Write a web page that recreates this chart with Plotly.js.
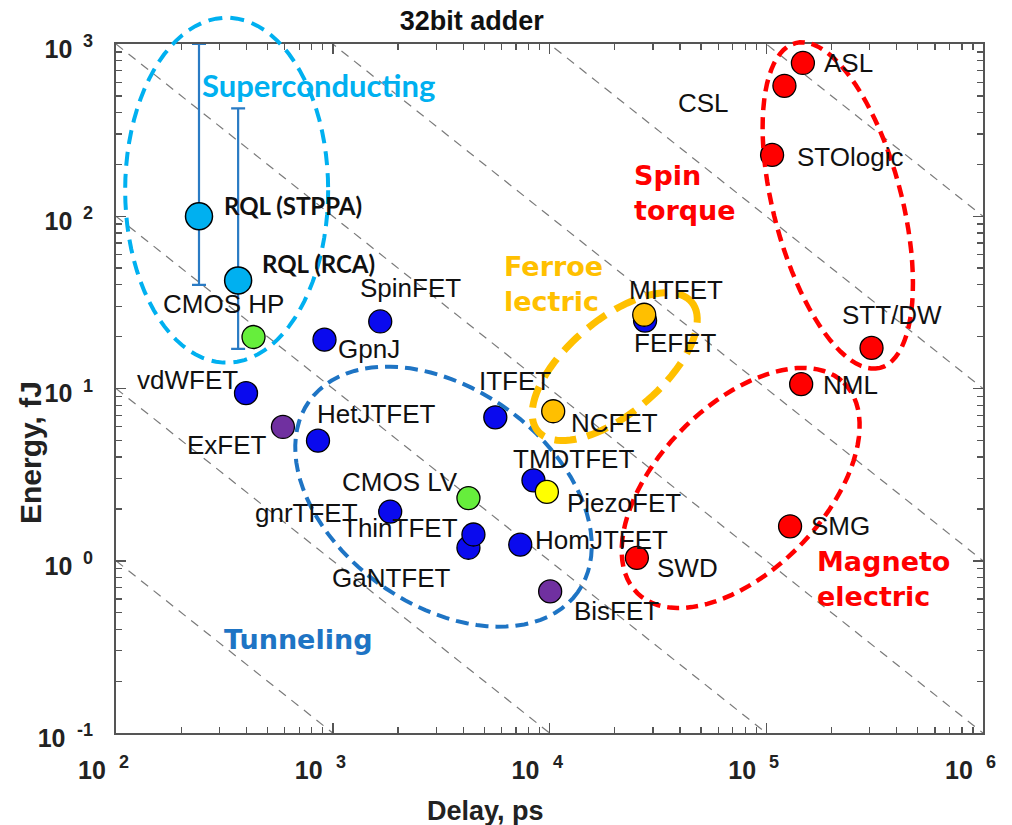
<!DOCTYPE html>
<html>
<head>
<meta charset="utf-8">
<script src="https://cdn.plot.ly/plotly-3.0.1.min.js"></script>
<style>html,body{margin:0;padding:0;background:#fff;}</style>
</head>
<body>
<div id="chart" style="width:1012px;height:825px;"></div>
<script>
// ---------------- DATA ----------------
// Superconducting (RQL) adders, with energy ranges (error bars)
const rqlNames = ['RQL (STPPA)', 'RQL (RCA)'];
const rqlDelay = [241.5, 366];          // ps
const rqlEnergy = [100, 42.4];          // fJ
const rqlEnergyHigh = [1000, 423];      // fJ
const rqlEnergyLow = [40, 17];          // fJ

// Beyond-CMOS benchmark devices (32 bit adder)
const deviceNames = ['CMOS HP', 'GpnJ', 'SpinFET', 'vdWFET', 'ExFET', 'HetJTFET', 'gnrTFET', 'CMOS LV',
  'GaNTFET', 'ThinTFET', 'HomJTFET', 'ITFET', 'TMDTFET', 'PiezoFET', 'BisFET', 'NCFET', 'FEFET', 'MITFET',
  'SWD', 'SMG', 'NML', 'STT/DW', 'STOlogic', 'CSL', 'ASL'];
const deviceDelay = [431, 916, 1656, 398, 589, 855, 1841, 4227,
  4227, 4457, 7328, 5623, 8433, 9727, 10070, 10400, 27600, 27350,
  25300, 128800, 144900, 306000, 106400, 121300, 147600];
const deviceEnergy = [19.9, 19.2, 24.5, 9.4, 5.98, 4.98, 1.93, 2.31,
  1.19, 1.42, 1.24, 6.8, 2.93, 2.51, 0.664, 7.38, 24.8, 26.8,
  1.04, 1.585, 10.6, 17.2, 227, 572, 776];
const deviceKind = ['cmos', 'fet', 'fet', 'fet', 'exciton', 'fet', 'fet', 'cmos',
  'fet', 'fet', 'fet', 'fet', 'fet', 'piezo', 'exciton', 'ferro', 'fet', 'ferro',
  'spin', 'spin', 'spin', 'spin', 'spin', 'spin', 'spin'];

// Constant energy-delay product lines (fJ*ps)
const edProducts = [1e2, 1e3, 1e4, 1e5, 1e6, 1e7, 1e8];

// Axis ticks (base "10" on the axis, exponent drawn as a raised label)
const xTickVals = [1e2, 1e3, 1e4, 1e5, 1e6];
const xTickText = ['10', '10', '10', '10', '10'];
const yTickVals = [1e-1, 1e0, 1e1, 1e2, 1e3];
const yTickText = ['10\u00a0', '10', '10', '10', '10'];

// Group regions (center delay, center energy)
const groupNames = ['Superconducting', 'Tunneling', 'Ferroelectric', 'Spin torque', 'Magnetoelectric'];
const groupCenterDelay = [324, 3243, 20000, 213800, 76200];
const groupCenterEnergy = [141.6, 2.355, 13.4, 115.5, 2.645];
const groupLabelText = ['Superconducting', 'Tunneling', 'Ferroe<br>lectric', 'Spin<br>torque', 'Magneto<br>electric'];
const groupLabelDelay = [245, 308, 6050, 24000, 167500];
const groupLabelEnergy = [581, 0.348, 40.5, 136.5, 0.785];

// ---------------- STYLE ----------------
const W = 1012, H = 825;
const M = {l: 116, r: 29, t: 44, b: 92};
const plotW = W - M.l - M.r, plotH = H - M.t - M.b;
const xRange = [2, 6], yRange = [-1, 3];
const HELV = 'Liberation Sans, Arial, Helvetica, sans-serif';
const VERD = 'DejaVu Sans, Verdana, sans-serif';
const CAL = 'Lato, Open Sans, sans-serif';
const AXCOL = '#555';

const kindColor = {cmos: '#66ee3c', fet: '#0a0aee', exciton: '#7030a0', piezo: '#ffff00', ferro: '#ffbf00', spin: '#ff0000'};

// ellipse geometry in pixels: semi-axis a, semi-axis b, rotation (deg, screen)
const groupShape = {
  'Superconducting': {a: 101.5, b: 172.5, rot: 0, color: '#00b0f0', width: 4, dash: '14px,8px'},
  'Tunneling': {a: 164.8, b: 108.3, rot: 35.4, color: '#1e74c4', width: 4, dash: '13px,7px'},
  'Ferroelectric': {a: 100.4, b: 46.9, rot: -40.1, color: '#ffc000', width: 7, dash: '22px,11px'},
  'Spin torque': {a: 167.8, b: 64.2, rot: 75.4, color: '#ff0000', width: 4.5, dash: '12px,7px'},
  'Magnetoelectric': {a: 147.4, b: 82.7, rot: -45.5, color: '#ff0000', width: 4.5, dash: '12px,7px'}
};
const groupLabelStyle = {
  'Superconducting': {family: CAL, size: 31, color: '#00b0f0'},
  'Tunneling': {family: VERD, size: 27, color: '#1e74c4'},
  'Ferroelectric': {family: VERD, size: 27, color: '#ffc000'},
  'Spin torque': {family: VERD, size: 27, color: '#ff0000'},
  'Magnetoelectric': {family: VERD, size: 27, color: '#ff0000'}
};

// label offsets in px from the marker: [dx, dy (down), anchor]
const labelOffset = {
  'CMOS HP': [-30, -33, 'center'], 'GpnJ': [12, 9, 'left'], 'SpinFET': [-22, -33, 'left'],
  'vdWFET': [-6, -13.5, 'right'], 'ExFET': [-14, 18, 'right'], 'HetJTFET': [-3, -26.5, 'left'],
  'gnrTFET': [-30, 1.6, 'right'], 'CMOS LV': [-8, -16.6, 'right'], 'GaNTFET': [-15, 30, 'right'],
  'ThinTFET': [-13, -7, 'right'], 'HomJTFET': [13, -5, 'left'], 'ITFET': [20, -36.5, 'center'],
  'TMDTFET': [-22, -21.4, 'left'], 'PiezoFET': [18, 11, 'left'], 'BisFET': [22, 20, 'left'],
  'NCFET': [16, 12, 'left'], 'FEFET': [-13, 22, 'left'], 'MITFET': [-17, -25, 'left'],
  'SWD': [18, 10, 'left'], 'SMG': [19, 0, 'left'], 'NML': [20, 0.7, 'left'],
  'STT/DW': [-32, -33, 'left'], 'STOlogic': [23, 2, 'left'], 'CSL': [-53, 17, 'right'],
  'ASL': [19, 0, 'left'], 'RQL (STPPA)': [23, -10.6, 'left'], 'RQL (RCA)': [22, -17.4, 'left']
};

// ---------------- TRACES ----------------
const traces = [];

// constant E*D lines
const edX = [], edY = [];
edProducts.forEach(c => {
  edX.push(xTickVals[0], xTickVals[xTickVals.length - 1], null);
  edY.push(c / xTickVals[0], c / xTickVals[xTickVals.length - 1], null);
});
traces.push({
  x: edX, y: edY, type: 'scatter', mode: 'lines', hoverinfo: 'skip',
  line: {color: '#7a7a7a', width: 1.2, dash: '9px,7px'}, showlegend: false
});

// devices
traces.push({
  x: deviceDelay, y: deviceEnergy, text: deviceNames, type: 'scatter', mode: 'markers',
  marker: {size: 23, color: deviceKind.map(k => kindColor[k]), line: {color: '#000', width: 1.3}},
  showlegend: false, hoverinfo: 'text+x+y'
});

// superconducting with error bars
traces.push({
  x: rqlDelay, y: rqlEnergy, text: rqlNames, type: 'scatter', mode: 'markers',
  error_y: {
    type: 'data', symmetric: false,
    array: rqlEnergy.map((v, i) => rqlEnergyHigh[i] - v),
    arrayminus: rqlEnergy.map((v, i) => v - rqlEnergyLow[i]),
    color: '#2a7bc4', thickness: 2.2, width: 7
  },
  marker: {size: 27, color: '#00b0f0', line: {color: '#000', width: 1.5}},
  showlegend: false, hoverinfo: 'text+x+y'
});

// ---------------- SHAPES (group ellipses) ----------------
function toPaperX(v) { return (Math.log10(v) - xRange[0]) / (xRange[1] - xRange[0]); }
function toPaperY(v) { return (Math.log10(v) - yRange[0]) / (yRange[1] - yRange[0]); }

const shapes = groupNames.map((g, i) => {
  const s = groupShape[g];
  const cx = toPaperX(groupCenterDelay[i]), cy = toPaperY(groupCenterEnergy[i]);
  const th = s.rot * Math.PI / 180;
  let d = '';
  const N = 90;
  for (let k = 0; k <= N; k++) {
    const t = 2 * Math.PI * k / N;
    const dx = s.a * Math.cos(t) * Math.cos(th) - s.b * Math.sin(t) * Math.sin(th);
    const dy = s.a * Math.cos(t) * Math.sin(th) + s.b * Math.sin(t) * Math.cos(th);
    const px = cx + dx / plotW, py = cy - dy / plotH;
    d += (k === 0 ? 'M ' : ' L ') + px.toFixed(5) + ',' + py.toFixed(5);
  }
  d += ' Z';
  return {type: 'path', xref: 'paper', yref: 'paper', path: d, layer: 'above',
    line: {color: s.color, width: s.width, dash: s.dash}};
});

// ---------------- ANNOTATIONS ----------------
const annotations = [];
function pointLabel(name, x, y, font) {
  const o = labelOffset[name];
  annotations.push({
    x: Math.log10(x), y: Math.log10(y), xref: 'x', yref: 'y', text: name, showarrow: false,
    xanchor: o[2], yanchor: 'middle', xshift: o[0], yshift: -o[1], font: font
  });
}
deviceNames.forEach((n, i) => pointLabel(n, deviceDelay[i], deviceEnergy[i], {family: HELV, size: 26, color: '#111'}));
rqlNames.forEach((n, i) => pointLabel(n, rqlDelay[i], rqlEnergy[i], {family: CAL, size: 24, color: '#111', weight: 'bold'}));

groupNames.forEach((g, i) => {
  const st = groupLabelStyle[g];
  annotations.push({
    x: Math.log10(groupLabelDelay[i]), y: Math.log10(groupLabelEnergy[i]), xref: 'x', yref: 'y',
    text: groupLabelText[i], showarrow: false, xanchor: 'left', yanchor: 'middle', align: 'left',
    font: {family: st.family, size: st.size, color: st.color, weight: 'bold'}
  });
});

// tick exponents (raised, smaller), derived from the tick values
const expFont = {family: HELV, size: 18, color: '#222', weight: 'bold'};
xTickVals.forEach(v => {
  annotations.push({
    x: Math.log10(v), xref: 'x', y: -28.5 / plotH, yref: 'paper', text: String(Math.round(Math.log10(v))),
    showarrow: false, xanchor: 'left', yanchor: 'middle', xshift: 1, font: expFont
  });
});
yTickVals.forEach(v => {
  annotations.push({
    x: (95 - M.l) / plotW, xref: 'paper', y: Math.log10(v), yref: 'y', text: String(Math.round(Math.log10(v))),
    showarrow: false, xanchor: 'right', yanchor: 'middle', yshift: 3, font: expFont
  });
});

// axis titles
annotations.push({
  text: 'Delay, ps', xref: 'paper', yref: 'paper', x: (485.8 - M.l) / plotW, y: -(810.5 - (H - M.b)) / plotH,
  showarrow: false, xanchor: 'center', yanchor: 'middle',
  font: {family: HELV, size: 27, color: '#222', weight: 'bold'}
});
annotations.push({
  text: 'Energy, fJ', xref: 'paper', yref: 'paper', x: (30 - M.l) / plotW, y: ((H - M.b) - 453) / plotH,
  showarrow: false, xanchor: 'center', yanchor: 'middle', textangle: -90,
  font: {family: HELV, size: 30, color: '#222', weight: 'bold'}
});

// minor tick positions (2..9 per decade)
function minorVals(vals) {
  const out = [];
  for (let i = 0; i < vals.length - 1; i++) for (let m = 2; m <= 9; m++) out.push(vals[i] * m);
  return out;
}

const axisCommon = {
  type: 'log', showgrid: false, zeroline: false, showline: true, linecolor: AXCOL, linewidth: 1.6,
  mirror: 'ticks', ticks: 'inside', ticklen: 10, tickwidth: 1.5, tickcolor: AXCOL, tickmode: 'array',
  tickfont: {family: HELV, size: 25, color: '#222', weight: 'bold'}
};

const layout = {
  width: W, height: H, margin: {l: M.l, r: M.r, t: M.t, b: M.b, pad: 0},
  paper_bgcolor: '#fff', plot_bgcolor: '#fff', showlegend: false,
  title: {text: '32bit adder', font: {family: HELV, size: 27, color: '#111', weight: 'bold'},
    xref: 'container', yref: 'container', x: 471.7 / W, xanchor: 'center', y: 1 - 21 / H, yanchor: 'middle'},
  xaxis: Object.assign({}, axisCommon, {
    range: xRange, tickvals: xTickVals, ticktext: xTickText, ticklabelstandoff: 14, ticklabelshift: -24,
    minor: {tickmode: 'array', tickvals: minorVals(xTickVals), ticks: 'inside', ticklen: 6, tickcolor: AXCOL, tickwidth: 1.3, showgrid: false}
  }),
  yaxis: Object.assign({}, axisCommon, {
    range: yRange, tickvals: yTickVals, ticktext: yTickText, ticklabelstandoff: 37, ticklabelshift: 5,
    minor: {tickmode: 'array', tickvals: minorVals(yTickVals), ticks: 'inside', ticklen: 6, tickcolor: AXCOL, tickwidth: 1.3, showgrid: false}
  }),
  shapes: shapes,
  annotations: annotations
};

Plotly.newPlot('chart', traces, layout, {displayModeBar: false, staticPlot: true});
</script>
</body>
</html>
